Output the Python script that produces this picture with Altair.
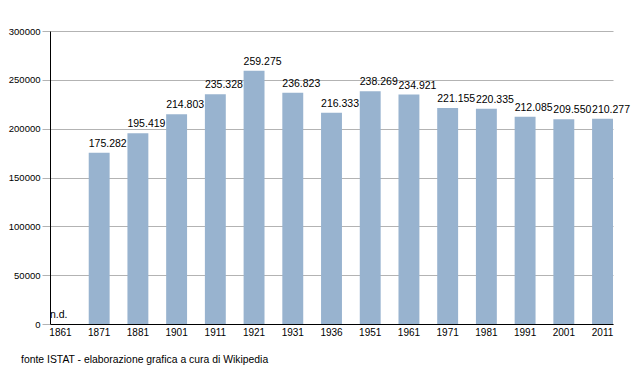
import altair as alt
import pandas as pd

years = ["1861", "1871", "1881", "1901", "1911", "1921", "1931", "1936",
         "1951", "1961", "1971", "1981", "1991", "2001", "2011"]
population = [0, 175282, 195419, 214803, 235328, 259275, 236823, 216333,
              238269, 234921, 221155, 220335, 212085, 209550, 210277]
labels = ["n.d.", "175.282", "195.419", "214.803", "235.328", "259.275", "236.823",
          "216.333", "238.269", "234.921", "221.155", "220.335", "212.085",
          "209.550", "210.277"]
y_ticks = [0, 50000, 100000, 150000, 200000, 250000, 300000]
footer = "fonte ISTAT - elaborazione grafica a cura di Wikipedia"

df = pd.DataFrame({"year": years, "pop": population, "label": labels})

FONT = "Liberation Sans"

x = alt.X("year:N", sort=years,
          scale=alt.Scale(paddingInner=0.46, paddingOuter=0),
          axis=alt.Axis(title=None, labelAngle=0, ticks=False, domainColor="black",
                        labelFont=FONT, labelFontSize=10, labelColor="black",
                        labelPadding=3))
y = alt.Y("pop:Q", scale=alt.Scale(domain=[0, 300000], nice=False),
          axis=alt.Axis(title=None, values=y_ticks, format="d", gridColor="#b3b3b3",
                        tickColor="#b3b3b3", tickSize=8, domainColor="black",
                        labelFont=FONT, labelFontSize=9.5, labelColor="black",
                        labelPadding=2))

bars = alt.Chart(df).mark_bar(color="#98b3cf").encode(x=x, y=y)
text = alt.Chart(df).mark_text(align="left", baseline="bottom", dy=-4, font=FONT,
                               fontSize=10.5, color="black").encode(
    x=alt.X("year:N", sort=years, bandPosition=0), y="pop:Q", text="label:N")

chart = alt.layer(bars, text).properties(
    width=563, height=293,
    autosize=alt.AutoSizeParams(type="none"),
    padding={"left": 42, "top": 23, "right": 22, "bottom": 41},
    title=alt.TitleParams(footer, orient="bottom", anchor="start", frame="group",
                          dx=-29, offset=18,
                          font=FONT, fontSize=10.4, fontWeight="normal", color="black"),
).configure_view(stroke=None)

chart.save("out.html", embed_options={"renderer": "svg", "actions": False})
